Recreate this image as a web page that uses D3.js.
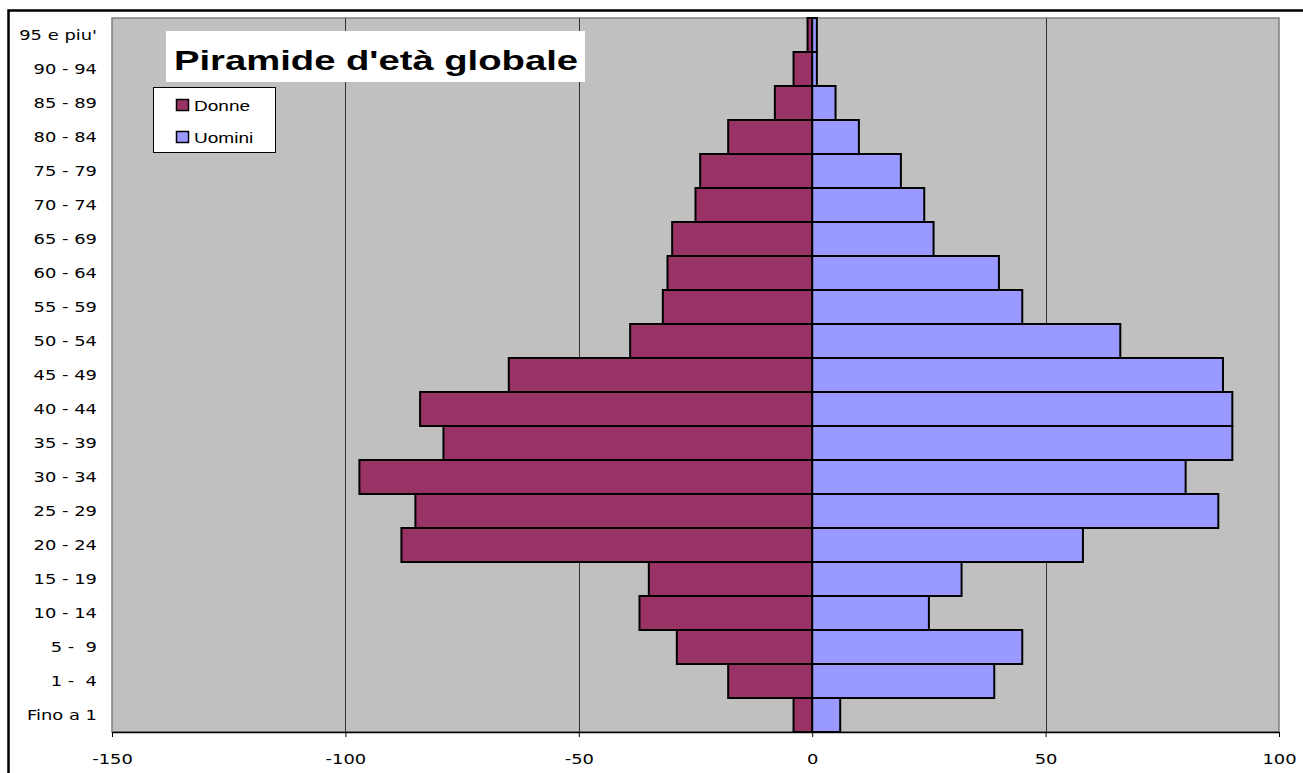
<!DOCTYPE html>
<html><head><meta charset="utf-8">
<script src="https://cdn.jsdelivr.net/npm/d3@7"></script>
<style>body{margin:0;background:#fff}svg{display:block}text{white-space:pre}</style>
</head><body>
<script>
const categories = ["Fino a 1","1 -  4","5 -  9","10 - 14","15 - 19","20 - 24","25 - 29","30 - 34","35 - 39","40 - 44","45 - 49","50 - 54","55 - 59","60 - 64","65 - 69","70 - 74","75 - 79","80 - 84","85 - 89","90 - 94","95 e piu'"];
const donne  = [-4,-18,-29,-37,-35,-88,-85,-97,-79,-84,-65,-39,-32,-31,-30,-25,-24,-18,-8,-4,-1];
const uomini = [6,39,45,25,32,58,87,80,90,90,88,66,45,40,26,24,19,10,5,1,1];
const xTicks = [-150,-100,-50,0,50,100];
const seriesNames = ["Donne","Uomini"];
const colors = ["#993366","#9999ff"];

const W=1303,H=773;
const svg=d3.select("body").append("svg").attr("width",W).attr("height",H);
const L=112,R=1279,T=18,B=732;
const SX=1.28;
svg.append("rect").attr("x",8.5).attr("y",10.5).attr("width",1300).attr("height",770).attr("fill","#fff").attr("stroke","#000").attr("stroke-width",2.5);

const x=d3.scaleLinear().domain([-150,100]).range([L,R]);
const y=d3.scaleBand().domain(categories.slice().reverse()).range([T,B]).padding(0);

svg.append("rect").attr("x",L).attr("y",T).attr("width",R-L).attr("height",B-T).attr("fill","#c0c0c0").attr("stroke","#808080").attr("stroke-width",1.5);

svg.append("g").selectAll("line").data(xTicks.slice(1,-1)).join("line")
 .attr("x1",d=>Math.round(x(d))+0.5).attr("x2",d=>Math.round(x(d))+0.5).attr("y1",T).attr("y2",B)
 .attr("stroke","#333").attr("stroke-width",1);

const bars=svg.append("g");
[donne,uomini].forEach((arr,si)=>{
  bars.append("g").selectAll("rect").data(arr).join("rect")
   .attr("x",d=>x(Math.min(0,d))).attr("width",d=>Math.abs(x(d)-x(0)))
   .attr("y",(d,i)=>y(categories[i])).attr("height",y.bandwidth())
   .attr("fill",colors[si]).attr("stroke","#000").attr("stroke-width",2);
});

const xAxis=d3.axisBottom(x).tickValues(xTicks).tickFormat(d=>String(d)).tickSize(5).tickSizeOuter(0);
const gx=svg.append("g").attr("transform",`translate(0,${B})`).call(xAxis);
gx.select(".domain").attr("stroke","#000").attr("stroke-width",1.5);
gx.selectAll(".tick line").attr("stroke","#000");
gx.selectAll("text").attr("y",null).attr("dy",null)
  .attr("transform",`translate(0,32) scale(${SX},1)`)
  .attr("font-family","DejaVu Sans, Verdana, sans-serif").attr("font-size",14).attr("fill","#000");

const yAxis=d3.axisLeft(y).tickSize(0);
const gy=svg.append("g").attr("transform",`translate(${L},0)`).call(yAxis);
gy.select(".domain").remove();
gy.selectAll("text").attr("x",0).attr("dy","0.36em").attr("xml:space","preserve")
  .attr("transform",`translate(-15,0) scale(${SX},1)`)
  .attr("font-family","DejaVu Sans, Verdana, sans-serif").attr("font-size",14).attr("fill","#000");

// title
svg.append("rect").attr("x",166).attr("y",31).attr("width",419).attr("height",51).attr("fill","#fff");
svg.append("text").attr("x",174).attr("y",70).attr("textLength",404).attr("lengthAdjust","spacingAndGlyphs")
  .attr("font-family","Liberation Sans, Arial, sans-serif").attr("font-weight","bold").attr("font-size",28).attr("fill","#000").text("Piramide d'età globale");

// legend
const lg=svg.append("g");
lg.append("rect").attr("x",153.5).attr("y",87.5).attr("width",122).attr("height",65).attr("fill","#fff").attr("stroke","#000").attr("stroke-width",1);
seriesNames.forEach((n,i)=>{
  const yy=99+i*32;
  lg.append("rect").attr("x",176.5).attr("y",yy+0.5).attr("width",12).attr("height",11).attr("fill",colors[i]).attr("stroke","#000").attr("stroke-width",1.5);
  lg.append("text").attr("transform",`translate(194,${yy+12}) scale(1.27,1)`).attr("font-family","Liberation Sans, Arial, sans-serif").attr("font-size",15).attr("fill","#000").text(n);
});
</script>
</body></html>
